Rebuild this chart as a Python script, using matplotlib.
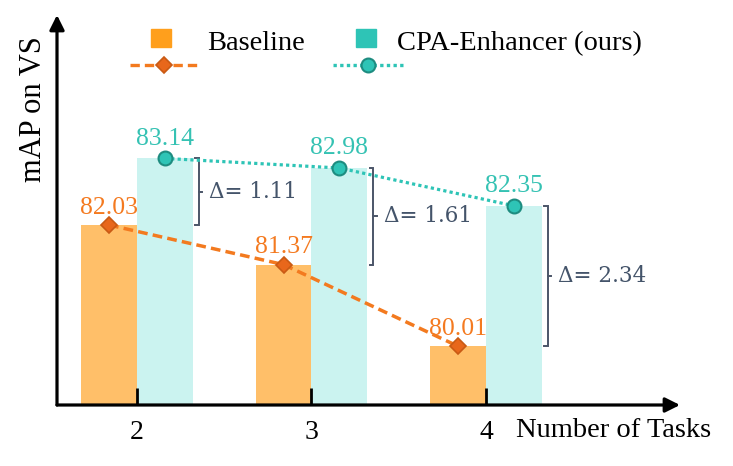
import matplotlib.pyplot as plt
import numpy as np
from matplotlib.patches import Rectangle
from matplotlib.lines import Line2D

tasks = [2, 3, 4]
baseline = [82.03, 81.37, 80.01]
cpa = [83.14, 82.98, 82.35]
series_names = ["Baseline", "CPA-Enhancer (ours)"]

SERIF = "Liberation Serif"
ORANGE_BAR = "#FFBF69"
ORANGE_KEY = "#FF9F1C"
ORANGE_LINE = "#F37A1F"
ORANGE_TXT = "#F47A20"
TEAL_BAR = "#CBF3F0"
TEAL_KEY = "#2EC4B6"
TEAL_TXT = "#35C2B3"
GREY = "#44546A"

fig = plt.figure(figsize=(7.33, 4.66), dpi=100)
W, H = 733, 466
ax = fig.add_axes([57 / W, 1 - 405 / H, 623 / W, 390 / H])

x = np.array(tasks, dtype=float)
bw = 0.32
ymin = 79.03
ax.set_xlim(1.542, 5.112)
ax.set_ylim(ymin, 85.53)

ax.bar(x - bw / 2, np.array(baseline) - ymin, bw, bottom=ymin, color=ORANGE_BAR, zorder=1)
ax.bar(x + bw / 2, np.array(cpa) - ymin, bw, bottom=ymin, color=TEAL_BAR, zorder=1)

ax.plot(x - bw / 2, baseline, color=ORANGE_LINE, lw=2.5, ls=(0, (2.8, 1.5)),
        marker="D", ms=8, mfc="#E8671B", mec="#C95A14", mew=1.2, zorder=3)
ax.plot(x + bw / 2, cpa, color=TEAL_KEY, lw=2.3, ls=(0, (1, 1)),
        marker="o", ms=10, mfc=TEAL_KEY, mec="#1E8C80", mew=1.5, zorder=3)

for xi, b, c in zip(x, baseline, cpa):
    ax.annotate(f"{b:.2f}", (xi - bw / 2, b), xytext=(0, 8), textcoords="offset points",
                ha="center", va="baseline", color=ORANGE_TXT, fontsize=18.5, family=SERIF, zorder=4)
    ax.annotate(f"{c:.2f}", (xi + bw / 2, c), xytext=(0, 10), textcoords="offset points",
                ha="center", va="baseline", color=TEAL_TXT, fontsize=18.5, family=SERIF, zorder=4)
    # bracket showing the gap
    bx = xi + bw + 0.034
    hook = 0.02
    ax.plot([bx - hook, bx, bx, bx - hook], [c, c, b, b], color="#4B5568", lw=1.4,
            solid_joinstyle="miter", zorder=2)
    ax.plot([bx, bx + hook], [(b + c) / 2] * 2, color="#4B5568", lw=1.4, zorder=2)
    ax.text(bx + 0.06, (b + c) / 2, f"Δ= {c - b:.2f}", ha="left", va="center",
            color=GREY, fontsize=15.5, family="DejaVu Serif")

# axes as arrows
for s in ax.spines.values():
    s.set_visible(False)
arrow = dict(arrowstyle="-|>", lw=2.3, color="black", mutation_scale=22, shrinkA=0, shrinkB=0)
ax.annotate("", xy=(0, 1), xytext=(0, 0), xycoords="axes fraction", arrowprops=arrow)
ax.annotate("", xy=(1, 0), xytext=(0, 0), xycoords="axes fraction", arrowprops=arrow)

ax.set_xticks(tasks)
ax.set_xticklabels([str(t) for t in tasks], family=SERIF, fontsize=20)
ax.tick_params(axis="x", direction="in", length=12, width=2, pad=11)
ax.set_yticks([])

ax.text(0.737, -0.082, "Number of Tasks", transform=ax.transAxes, ha="left", va="baseline",
        fontsize=20.5, family=SERIF)
ax.text(-0.037, 0.759, "mAP on VS", transform=ax.transAxes, ha="center", va="center",
        rotation=90, fontsize=22, family=SERIF)


# legend drawn by hand (two columns: box on top, line below)
def fx(px):
    return (px - 57) / 623


def fy(py):
    return (405 - py) / 390


legend_items = [
    (series_names[0], ORANGE_KEY, 161, 207, 130, 198, dict(color=ORANGE_LINE, ls=(0, (2.8, 1.5)),
     marker="D", ms=8, mfc="#E8671B", mec="#C95A14", mew=1.2)),
    (series_names[1], TEAL_KEY, 366, 397, 333, 403, dict(color=TEAL_KEY, ls=(0, (1, 1)),
     marker="o", ms=10, mfc=TEAL_KEY, mec="#1E8C80", mew=1.5)),
]
for name, col, cx, tx, l0, l1, style in legend_items:
    ax.add_patch(Rectangle((fx(cx - 10), fy(47)), 20 / 623, 18 / 390, transform=ax.transAxes,
                           color=col, clip_on=False))
    ax.text(fx(tx), fy(50), name, transform=ax.transAxes, ha="left", va="baseline",
            fontsize=20.5, family=SERIF)
    ax.add_line(Line2D([fx(l0), fx(l1)], [fy(65)] * 2, transform=ax.transAxes, lw=2.4,
                       clip_on=False, markevery=[], **style))
    ax.add_line(Line2D([fx((l0 + l1) / 2)], [fy(65)], transform=ax.transAxes, lw=0,
                       clip_on=False, **{k: v for k, v in style.items() if k != "ls"}))

fig.savefig("out.png", dpi=100)
